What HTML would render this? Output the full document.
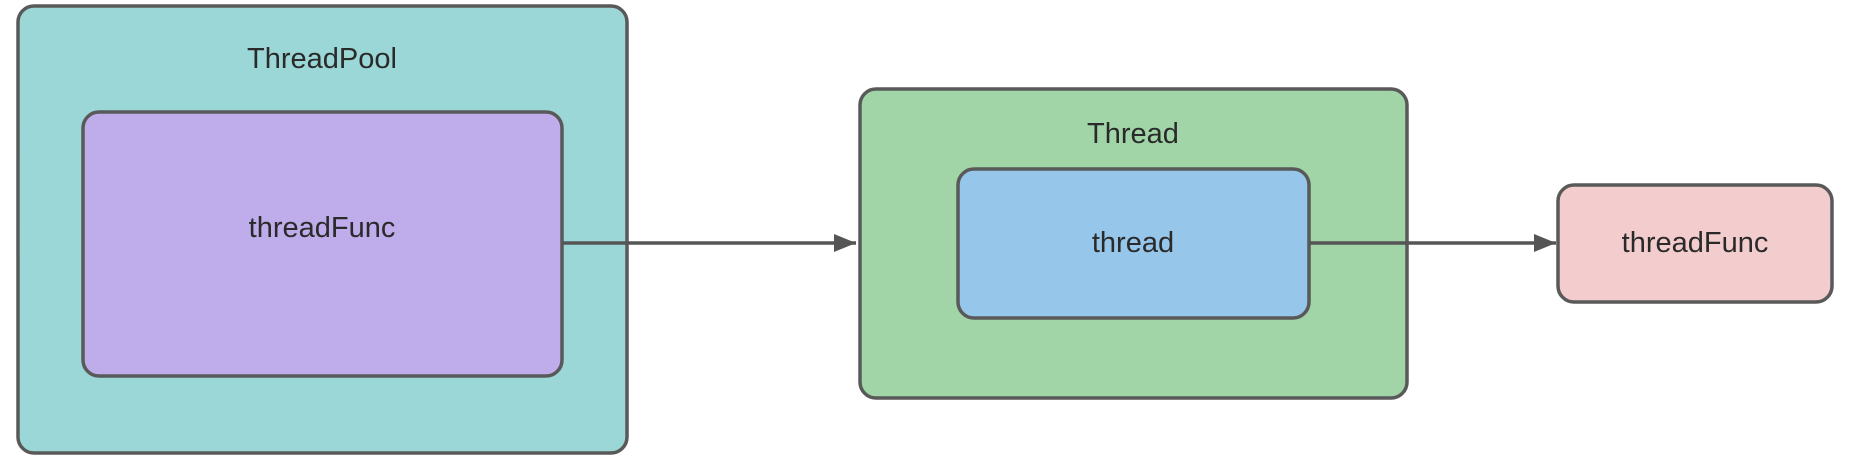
<!DOCTYPE html>
<html><head><meta charset="utf-8"><style>
html,body{margin:0;padding:0;background:#fff;width:1854px;height:460px;overflow:hidden}
svg text{font-family:"Liberation Sans","Noto Sans CJK SC",sans-serif;font-size:29px;fill:#2a2a2a;text-anchor:middle;dominant-baseline:central}
</style></head><body>
<svg width="1854" height="460" viewBox="0 0 1854 460" xmlns="http://www.w3.org/2000/svg">
<defs>
<marker id="b" markerWidth="24" markerHeight="18" refX="22" refY="9" orient="auto" markerUnits="userSpaceOnUse"><path d="M0,0 L22,9 L0,18 Z" fill="#555"/></marker></defs>
<rect x="18" y="6" width="609" height="447" rx="16" fill="#9bd7d7" stroke="#595959" stroke-width="3.5"/>
<rect x="83" y="112" width="479" height="264" rx="16" fill="#bfaceb" stroke="#595959" stroke-width="3.5"/>
<rect x="860" y="89" width="547" height="309" rx="16" fill="#a1d5a8" stroke="#595959" stroke-width="3.5"/>
<rect x="958" y="169" width="351" height="149" rx="16" fill="#96c7eb" stroke="#595959" stroke-width="3.5"/>
<rect x="1558" y="185" width="274" height="117" rx="16" fill="#f3cdcd" stroke="#595959" stroke-width="3.5"/>
<line x1="562" y1="243" x2="856" y2="243" stroke="#555" stroke-width="3.5" marker-end="url(#b)"/>
<line x1="1309" y1="243" x2="1556" y2="243" stroke="#555" stroke-width="3.5" marker-end="url(#b)"/>
<text x="322" y="59">ThreadPool</text>
<text x="322" y="228">threadFunc</text>
<text x="1133" y="134">Thread</text>
<text x="1133" y="243">thread</text>
<text x="1695" y="243">threadFunc</text>
</svg>
</body></html>
